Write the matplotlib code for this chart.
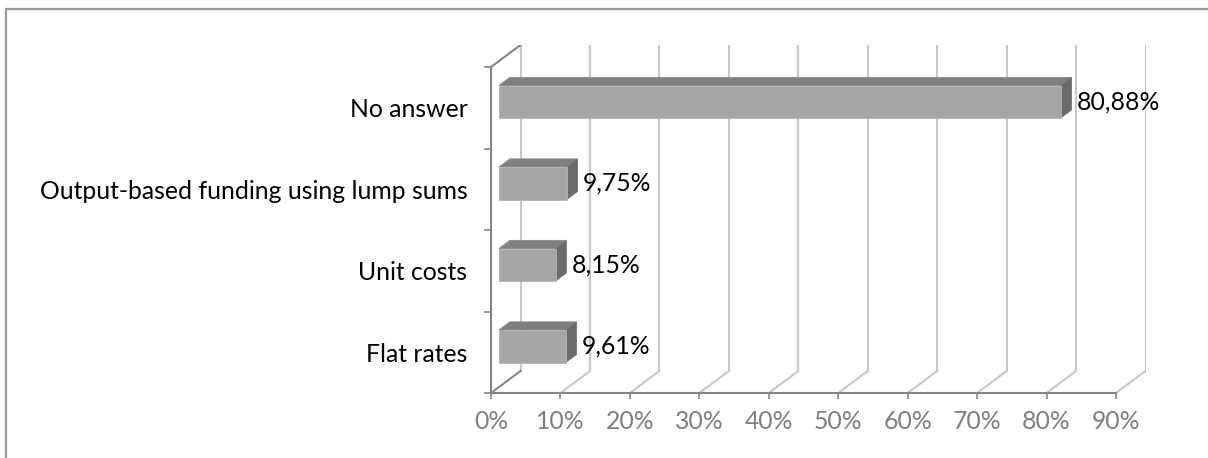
import matplotlib as mpl
import matplotlib.pyplot as plt
from matplotlib.patches import Polygon, Rectangle

mpl.rcParams['font.family'] = ['Lato', 'DejaVu Sans']

# survey answers, listed bottom to top
categories = ["Flat rates", "Unit costs", "Output-based funding using lump sums", "No answer"]
shares = [9.61, 8.15, 9.75, 80.88]
x_ticks = list(range(0, 100, 10))

AXIS_COLOR = '#868686'
GRID_COLOR = '#c8c8c8'
FRONT = '#a6a6a6'
TOP = '#7f7f7f'
SIDE = '#6b6b6b'
FS = 17.8

# depth shear of the fake 3d box (data units per unit depth)
DX = 4.25
DY = 0.27
Z0, Z1 = 0.27, 0.64
BAR_H = 0.4


def proj(x, y, z):
    return (x + z * DX, y + z * DY)


W, H = 1208, 458
fig = plt.figure(figsize=(W / 100, H / 100), dpi=100)
ax = fig.add_axes([491 / W, (H - 393) / H, (1145.5 - 491) / W, (393 - 45) / H])
ax.set_xlim(0, x_ticks[-1] + DX)
ax.set_ylim(-0.5, len(categories) - 0.5 + DY)
ax.patch.set_visible(False)

# outer chart frame
fig.patches.append(Rectangle((6 / W, -0.2), 1.2, 1.2 - 9 / H, transform=fig.transFigure,
                             fill=False, edgecolor='#9a9a9a', linewidth=1.6))

y0, y1 = -0.5, len(categories) - 0.5

# back wall and floor gridlines
for v in x_ticks:
    bx, by = proj(v, y0, 1)
    ax.plot([bx, bx], [by, y1 + DY], color=GRID_COLOR, lw=1.5, zorder=1)
    if v > 0:
        ax.plot([v, bx], [y0, by], color=GRID_COLOR, lw=1.5, zorder=1)

# left wall edges
for yy in (y0, y1):
    bx, by = proj(0, yy, 1)
    ax.plot([0, bx], [yy, by], color=AXIS_COLOR, lw=1.5, zorder=2)

# bars as boxes
for i, v in enumerate(shares):
    lo, hi = i - BAR_H / 2, i + BAR_H / 2
    front = [proj(0, lo, Z0), proj(v, lo, Z0), proj(v, hi, Z0), proj(0, hi, Z0)]
    top = [proj(0, hi, Z0), proj(v, hi, Z0), proj(v, hi, Z1), proj(0, hi, Z1)]
    side = [proj(v, lo, Z0), proj(v, lo, Z1), proj(v, hi, Z1), proj(v, hi, Z0)]
    ax.add_patch(Polygon(top, closed=True, facecolor=TOP, edgecolor='#8a8a8a', lw=0.6, zorder=3))
    ax.add_patch(Polygon(side, closed=True, facecolor=SIDE, edgecolor='#777777', lw=0.6, zorder=3))
    ax.add_patch(Polygon(front, closed=True, facecolor=FRONT, edgecolor='#b4b4b4', lw=0.6, zorder=4))
    lx, ly = proj(v, i, Z1)
    ax.annotate(f"{v:.2f}".replace('.', ',') + '%', xy=(lx, proj(v, i, Z0)[1]),
                xytext=(4, 0), textcoords='offset points', va='center',
                fontsize=FS, color='black', zorder=5)

# axes
for s in ('top', 'right'):
    ax.spines[s].set_visible(False)
ax.spines['left'].set_bounds(y0, y1)
ax.spines['bottom'].set_bounds(0, x_ticks[-1])
for s in ('left', 'bottom'):
    ax.spines[s].set_color(AXIS_COLOR)
    ax.spines[s].set_linewidth(1.5)

ax.set_xticks(x_ticks)
ax.set_xticklabels([f"{t}%" for t in x_ticks])
ax.tick_params(axis='x', colors=AXIS_COLOR, length=4.5, width=1.2, pad=8,
               labelsize=FS, labelcolor='#7f7f7f')

ax.set_yticks(range(len(categories)))
ax.set_yticklabels(categories)
ax.tick_params(axis='y', length=0, pad=17, labelsize=FS, labelcolor='black')
ax.set_yticks([k - 0.5 for k in range(len(categories) + 1)], minor=True)
ax.tick_params(axis='y', which='minor', length=5, width=1.2, color=AXIS_COLOR)

plt.savefig('out.png', dpi=100)
